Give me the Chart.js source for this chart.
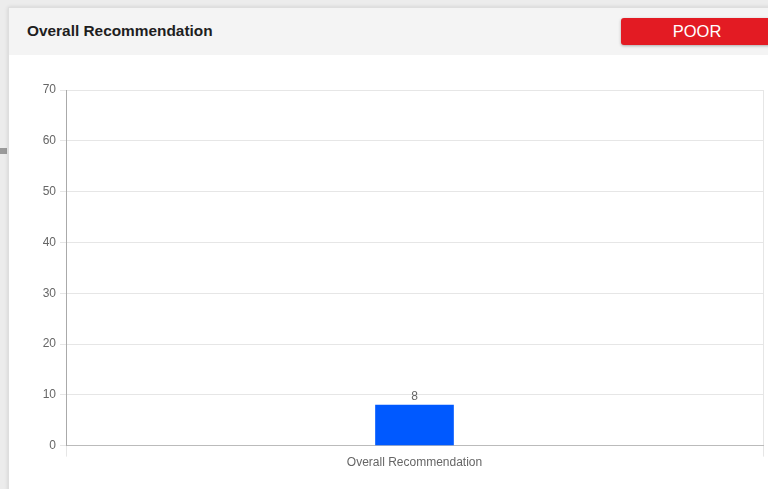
<!DOCTYPE html>
<html>
<head>
<meta charset="utf-8">
<script src="https://cdn.jsdelivr.net/npm/chart.js@4.4.1/dist/chart.umd.min.js"></script>
<style>
  html, body { margin: 0; padding: 0; }
  body {
    width: 768px; height: 489px; overflow: hidden;
    background: #ececec;
    font-family: "Liberation Sans", Arial, Helvetica, sans-serif;
    position: relative;
  }
  .handle { position: absolute; left: 0; top: 148px; width: 7px; height: 6px; background: #9a9a9a; }
  .card {
    position: absolute; left: 8px; top: 7px; width: 780px; height: 500px;
    background: #fff; border: 1px solid #dedede;
    box-shadow: 0 0 4px rgba(0,0,0,0.12);
  }
  .card-head {
    height: 47px; background: #f4f4f4; position: relative;
  }
  .card-head h3 {
    margin: 0; position: absolute; left: 18px; top: 14px;
    font-size: 15.4px; font-weight: bold; color: #1e1e1e;
  }
  .badge {
    position: absolute; left: 612px; top: 10px; width: 152px; height: 27px;
    background: #e31b23; color: #fff; border-radius: 3px;
    box-shadow: 0 1px 3px rgba(0,0,0,0.3);
    font-size: 16.5px; line-height: 26px; text-align: center;
  }
  #wrap { position: absolute; left: 11px; top: 56px; width: 757px; height: 433px; }
</style>
</head>
<body>
<div class="handle"></div>
<div class="card">
  <div class="card-head">
    <h3>Overall Recommendation</h3>
    <div class="badge">POOR</div>
  </div>
</div>
<div id="wrap"><canvas id="recChart"></canvas></div>

<script>
const categories = ['Overall Recommendation'];
const scores = [8];
const yTicks = [0, 10, 20, 30, 40, 50, 60, 70];

// writes the score above each bar
const valueLabels = {
  id: 'valueLabels',
  afterDatasetsDraw(chart) {
    const ctx = chart.ctx;
    ctx.save();
    ctx.font = '12px "Liberation Sans", Arial, sans-serif';
    ctx.fillStyle = '#666';
    ctx.textAlign = 'center';
    ctx.textBaseline = 'bottom';
    chart.getDatasetMeta(0).data.forEach((bar, i) => {
      ctx.fillText(scores[i], bar.x, bar.y - 2);
    });
    ctx.restore();
  }
};

new Chart(document.getElementById('recChart'), {
  type: 'bar',
  data: {
    labels: categories,
    datasets: [{
      data: scores,
      backgroundColor: '#0059ff',
      barThickness: 78
    }]
  },
  options: {
    responsive: true,
    maintainAspectRatio: false,
    animation: false,
    layout: { padding: { top: 34, right: 5, bottom: 20, left: 0 } },
    plugins: { legend: { display: false }, tooltip: { enabled: false } },
    scales: {
      x: {
        grid: { color: '#e6e6e6', tickLength: 11 },
        border: { color: '#bbb' },
        ticks: { color: '#666', font: { size: 12, family: '"Liberation Sans", Arial, sans-serif' }, padding: -1 }
      },
      y: {
        min: yTicks[0],
        max: yTicks[yTicks.length - 1],
        afterBuildTicks(scale) { scale.ticks = yTicks.map(v => ({ value: v })); },
        afterFit(scale) { scale.width = 55; },
        grid: { color: '#e6e6e6', tickLength: 6 },
        border: { color: '#aaa' },
        ticks: { color: '#666', font: { size: 12, family: '"Liberation Sans", Arial, sans-serif' }, padding: 4 }
      }
    }
  },
  plugins: [valueLabels]
});
</script>
</body>
</html>
